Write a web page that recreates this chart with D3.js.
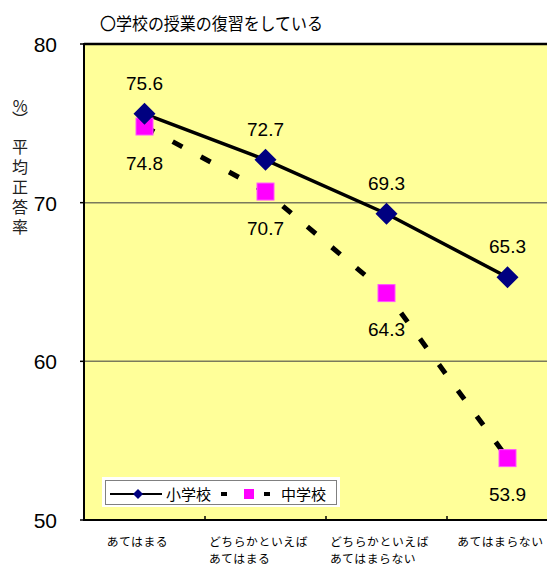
<!DOCTYPE html>
<html>
<head>
<meta charset="utf-8">
<script src="https://cdn.jsdelivr.net/npm/d3@7"></script>
<style>
  html, body { margin: 0; padding: 0; background: #fff; }
  svg { display: block; }
</style>
</head>
<body>
<svg id="chart" width="547" height="567"></svg>
<script>
// Response categories (x axis), with line breaks for two-line labels
const categories = ["あてはまる", "どちらかといえば\nあてはまる", "どちらかといえば\nあてはまらない", "あてはまらない"];
// Average correct-answer rate (%) per group
const elementary = [75.6, 72.7, 69.3, 65.3];
const juniorHigh = [74.8, 70.7, 64.3, 53.9];
const seriesNames = ["小学校", "中学校"];
const yTicks = [50, 60, 70, 80];
const titleText = "〇学校の授業の復習をしている";
const yUnitText = "%︶";
const yTitleText = "平均正答率";

const svg = d3.select("#chart");
const NUM_FONT = "'Liberation Sans', Arial, sans-serif";
const JP_FONT = "'Noto Sans CJK JP', sans-serif";

const plot = { left: 84, right: 568, top: 44, bottom: 520 };

const x = d3.scaleBand().domain(categories).range([plot.left, plot.right]).padding(0);
const y = d3.scaleLinear().domain([50, 80]).range([plot.bottom, plot.top]);
const cx = (i) => x(categories[i]) + x.bandwidth() / 2;

// Plot background
svg.append("rect")
  .attr("x", plot.left).attr("y", plot.top)
  .attr("width", plot.right - plot.left).attr("height", plot.bottom - plot.top)
  .attr("fill", "#FFFF99");

// Horizontal gridlines
svg.append("g").selectAll("line")
  .data(yTicks.filter(t => t > 50 && t < 80))
  .join("line")
  .attr("x1", plot.left).attr("x2", plot.right)
  .attr("y1", d => y(d)).attr("y2", d => y(d))
  .attr("stroke", "#7a7a5c").attr("stroke-width", 1.5);

// Frame: left, top, bottom
svg.append("line").attr("x1", plot.left).attr("x2", plot.right)
  .attr("y1", plot.top).attr("y2", plot.top)
  .attr("stroke", "#000").attr("stroke-width", 2.5);
svg.append("line").attr("x1", plot.left).attr("x2", plot.right)
  .attr("y1", plot.bottom).attr("y2", plot.bottom)
  .attr("stroke", "#000").attr("stroke-width", 2);
svg.append("line").attr("x1", plot.left).attr("x2", plot.left)
  .attr("y1", plot.top - 1).attr("y2", plot.bottom + 1)
  .attr("stroke", "#000").attr("stroke-width", 2);

// Y axis ticks and labels
const yAxis = svg.append("g");
yAxis.selectAll("line").data(yTicks).join("line")
  .attr("x1", plot.left - 4).attr("x2", plot.left)
  .attr("y1", d => y(d)).attr("y2", d => y(d))
  .attr("stroke", "#000").attr("stroke-width", 1.5);
yAxis.selectAll("text").data(yTicks).join("text")
  .attr("x", 57).attr("y", d => y(d) + 8)
  .attr("text-anchor", "end")
  .attr("font-family", NUM_FONT).attr("font-size", 21)
  .attr("fill", "#000")
  .text(d => d);

// X axis category boundary ticks (inside)
svg.append("g").selectAll("line")
  .data(categories.slice(1))
  .join("line")
  .attr("x1", d => x(d)).attr("x2", d => x(d))
  .attr("y1", plot.bottom - 4).attr("y2", plot.bottom)
  .attr("stroke", "#000").attr("stroke-width", 1.5);

// X axis category labels (left-aligned lines, block centred under category)
const xLab = svg.append("g");
categories.forEach((c, i) => {
  const lines = c.split("\n");
  const t = xLab.append("text")
    .attr("font-family", JP_FONT).attr("font-size", 11.8)
    .style("letter-spacing", "0.6px").attr("fill", "#000");
  lines.forEach((ln, k) => {
    t.append("tspan").attr("y", 546 + k * 17.2).text(ln);
  });
  let maxW = 0;
  t.selectAll("tspan").each(function () { maxW = Math.max(maxW, this.getComputedTextLength()); });
  const x0 = cx(i) - maxW / 2 - 7;
  t.selectAll("tspan").attr("x", x0);
});

// Title
svg.append("text")
  .attr("x", 100).attr("y", 30)
  .attr("font-family", JP_FONT).attr("font-size", 17.5)
  .attr("textLength", 223).attr("lengthAdjust", "spacingAndGlyphs")
  .attr("fill", "#000")
  .text(titleText);

// Y axis title, written vertically
svg.append("text")
  .attr("x", 20).attr("y", 98)
  .style("writing-mode", "vertical-rl")
  .style("text-orientation", "upright")
  .style("letter-spacing", "-3px")
  .attr("font-family", JP_FONT).attr("font-size", 16)
  .attr("fill", "#222")
  .text(yUnitText);
svg.append("text")
  .attr("x", 20).attr("y", 139)
  .style("writing-mode", "vertical-rl")
  .style("text-orientation", "upright")
  .style("letter-spacing", "4px")
  .attr("font-family", JP_FONT).attr("font-size", 16)
  .attr("fill", "#222")
  .text(yTitleText);

// Series lines
const line = d3.line().x((d, i) => cx(i)).y(d => y(d));
svg.append("path").datum(juniorHigh)
  .attr("d", line).attr("fill", "none")
  .attr("stroke", "#000").attr("stroke-width", 5)
  .attr("stroke-dasharray", "11 21");
svg.append("path").datum(elementary)
  .attr("d", line).attr("fill", "none")
  .attr("stroke", "#000").attr("stroke-width", 3.5);

// Markers: squares for junior high, diamonds for elementary
const sq = 17;
svg.append("g").selectAll("rect").data(juniorHigh).join("rect")
  .attr("x", (d, i) => cx(i) - sq / 2).attr("y", d => y(d) - sq / 2)
  .attr("width", sq).attr("height", sq)
  .attr("fill", "#FF00FF").attr("stroke", "#ff55ff").attr("stroke-width", 1);
const diamond = d3.symbol(d3.symbolSquare, 242)();
svg.append("g").selectAll("path").data(elementary).join("path")
  .attr("d", diamond)
  .attr("transform", (d, i) => `translate(${cx(i)},${y(d)}) rotate(45)`)
  .attr("fill", "#000080");

// Value labels
svg.append("g").selectAll("text").data(elementary).join("text")
  .attr("x", (d, i) => cx(i)).attr("y", d => y(d) - 24)
  .attr("text-anchor", "middle")
  .attr("font-family", NUM_FONT).attr("font-size", 19).attr("fill", "#000")
  .text(d => d.toFixed(1));
svg.append("g").selectAll("text").data(juniorHigh).join("text")
  .attr("x", (d, i) => cx(i)).attr("y", d => y(d) + 43)
  .attr("text-anchor", "middle")
  .attr("font-family", NUM_FONT).attr("font-size", 19).attr("fill", "#000")
  .text(d => d.toFixed(1));

// Legend
const lg = svg.append("g");
lg.append("rect").attr("x", 102).attr("y", 477).attr("width", 238).attr("height", 30).attr("fill", "#fff");
lg.append("rect").attr("x", 105.5).attr("y", 480.5).attr("width", 231).attr("height", 24)
  .attr("fill", "#fff").attr("stroke", "#808080").attr("stroke-width", 1);
lg.append("line").attr("x1", 110).attr("x2", 162).attr("y1", 494).attr("y2", 494)
  .attr("stroke", "#000").attr("stroke-width", 2);
lg.append("path").attr("d", d3.symbol(d3.symbolSquare, 50)())
  .attr("transform", "translate(138,494) rotate(45)").attr("fill", "#000080");
lg.append("text").attr("x", 166).attr("y", 500)
  .attr("font-family", JP_FONT).attr("font-size", 15).attr("fill", "#000")
  .text(seriesNames[0]);
lg.append("line").attr("x1", 221).attr("x2", 277).attr("y1", 494).attr("y2", 494)
  .attr("stroke", "#000").attr("stroke-width", 4)
  .attr("stroke-dasharray", "6 37");
lg.append("rect").attr("x", 244).attr("y", 489).attr("width", 10).attr("height", 10)
  .attr("fill", "#FF00FF");
lg.append("text").attr("x", 281).attr("y", 500)
  .attr("font-family", JP_FONT).attr("font-size", 15).attr("fill", "#000")
  .text(seriesNames[1]);
</script>
</body>
</html>
